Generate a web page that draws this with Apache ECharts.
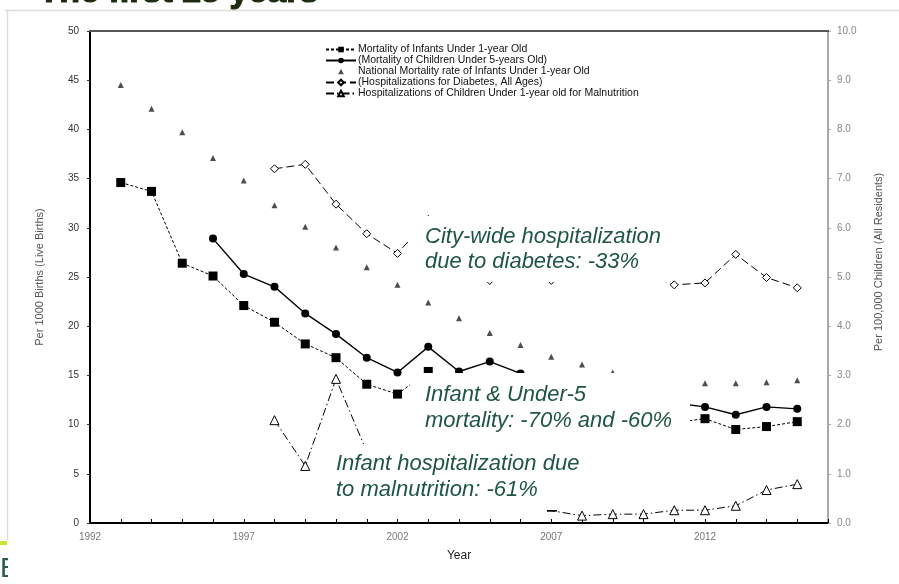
<!DOCTYPE html>
<html>
<head>
<meta charset="utf-8">
<script src="https://cdn.jsdelivr.net/npm/echarts@6/dist/echarts.min.js"></script>
<style>
  html, body { margin: 0; padding: 0; background: #ffffff; }
  #chart { width: 899px; height: 584px; }
</style>
</head>
<body>
<div id="chart"></div>
<script>
// Years on the horizontal axis
const years = [1992, 1993, 1994, 1995, 1996, 1997, 1998, 1999, 2000, 2001, 2002, 2003,
  2004, 2005, 2006, 2007, 2008, 2009, 2010, 2011, 2012, 2013, 2014, 2015, 2016];

// Per 1000 live births (left axis)
const infantMortality = [null, 34.6, 33.7, 26.4, 25.1, 22.1, 20.4, 18.2, 16.8, 14.1, 13.1, 15.4,
  12.9, 12.4, 12.0, 11.6, 11.2, 10.9, 10.6, 10.2, 10.6, 9.5, 9.8, 10.3, null];
const under5Mortality = [null, null, null, null, 28.9, 25.3, 24.0, 21.3, 19.2, 16.8, 15.3, 17.9,
  15.4, 16.4, 15.2, 14.6, 14.0, 13.4, 12.8, 12.2, 11.8, 11.0, 11.8, 11.6, null];
const nationalInfant = [null, 44.5, 42.1, 39.7, 37.1, 34.8, 32.3, 30.1, 28.0, 26.0, 24.2, 22.4,
  20.8, 19.3, 18.1, 16.9, 16.1, 15.3, 14.8, 14.5, 14.2, 14.2, 14.3, 14.5, null];

// Per 100,000 (right axis)
const diabetesHosp = [null, null, null, null, null, null, 7.20, 7.29, 6.48, 5.88, 5.48, 6.17,
  5.60, 4.93, 5.30, 4.93, 5.30, 5.20, 5.10, 4.84, 4.88, 5.46, 4.99, 4.78, null];
const malnutritionHosp = [null, null, null, null, null, null, 2.09, 1.16, 2.93, 1.45, 1.10, 0.90,
  0.70, 0.50, 0.25, 0.25, 0.15, 0.18, 0.18, 0.26, 0.26, 0.35, 0.67, 0.79, null];

const leftTicks = { min: 0, max: 50, step: 5 };
const rightTicks = { min: 0, max: 10, step: 1 };

const seriesNames = [
  'Mortality of Infants Under 1-year Old',
  '(Mortality of Children Under 5-years Old)',
  'National Mortality rate of Infants Under 1-year Old',
  '(Hospitalizations for Diabetes, All Ages)',
  'Hospitalizations of Children Under 1-year old for Malnutrition'
];

const FONT = '"Liberation Sans", Arial, sans-serif';
const NOTE = '#1f5547';
const TITLE = '#1e2a10';

// 2007 malnutrition point is drawn as a short tick instead of a triangle
const malnutritionData = malnutritionHosp.map((v, i) =>
  years[i] === 2007 ? { value: v, symbol: 'rect', symbolSize: [9, 1.2], itemStyle: { color: '#000' } } : v);

const chart = echarts.init(document.getElementById('chart'), null, { renderer: 'canvas' });

chart.setOption({
  backgroundColor: '#ffffff',
  animation: false,
  textStyle: { fontFamily: FONT },
  grid: { left: 90, right: 71, top: 31, bottom: 61 },
  legend: {
    orient: 'vertical',
    left: 325,
    top: 44,
    itemWidth: 30,
    itemHeight: 7,
    itemGap: 0,
    padding: 0,
    textStyle: { fontSize: 10.5, lineHeight: 8.5, color: '#111', fontFamily: FONT, padding: [0, 0, 0, -3] },
    data: seriesNames
  },
  xAxis: {
    type: 'category',
    data: years,
    boundaryGap: false,
    name: 'Year',
    nameLocation: 'middle',
    nameGap: 27,
    nameTextStyle: { fontSize: 12, color: '#222' },
    axisLine: { lineStyle: { color: '#000', width: 2 } },
    axisTick: { inside: true, length: 4, interval: 0, lineStyle: { color: '#000' } },
    axisLabel: { interval: 4, fontSize: 10, color: '#777', margin: 9 },
    splitLine: { show: false }
  },
  yAxis: [
    {
      type: 'value',
      min: leftTicks.min, max: leftTicks.max, interval: leftTicks.step,
      name: 'Per 1000 Births (Live Births)',
      nameLocation: 'middle',
      nameGap: 45,
      nameTextStyle: { fontSize: 11, color: '#555' },
      axisLine: { show: true, lineStyle: { color: '#000', width: 2 } },
      axisTick: { show: true, length: 3, lineStyle: { color: '#333' } },
      axisLabel: { fontSize: 10, color: '#333', margin: 11 },
      splitLine: { show: false }
    },
    {
      type: 'value',
      position: 'right',
      min: rightTicks.min, max: rightTicks.max, interval: rightTicks.step,
      name: 'Per 100,000 Children (All Residents)',
      nameLocation: 'middle',
      nameGap: 45,
      nameTextStyle: { fontSize: 11, color: '#555', padding: [0, 0, 0, 30] },
      axisLine: { show: true, lineStyle: { color: '#aaa', width: 2 } },
      axisTick: { show: true, length: 3, lineStyle: { color: '#aaa' } },
      axisLabel: { fontSize: 10, color: '#888', margin: 9, formatter: v => v.toFixed(1) },
      splitLine: { show: false }
    }
  ],
  series: [
    {
      name: seriesNames[0], type: 'line', data: infantMortality, yAxisIndex: 0,
      symbol: 'rect', symbolSize: 9, connectNulls: false,
      itemStyle: { color: '#000' },
      lineStyle: { color: '#000', width: 1, type: [3, 2] }
    },
    {
      name: seriesNames[1], type: 'line', data: under5Mortality, yAxisIndex: 0,
      symbol: 'circle', symbolSize: 8,
      itemStyle: { color: '#000' },
      lineStyle: { color: '#000', width: 1.4, type: 'solid' }
    },
    {
      name: seriesNames[2], type: 'line', data: nationalInfant, yAxisIndex: 0,
      symbol: 'triangle', symbolSize: 6,
      itemStyle: { color: '#4d4d4d' },
      lineStyle: { width: 0, opacity: 0 }
    },
    {
      name: seriesNames[3], type: 'line', data: diabetesHosp, yAxisIndex: 1,
      symbol: 'diamond', symbolSize: 8,
      itemStyle: { color: '#fff', borderColor: '#000', borderWidth: 1 },
      lineStyle: { color: '#000', width: 1, type: [8, 4] }
    },
    {
      name: seriesNames[4], type: 'line', data: malnutritionData, yAxisIndex: 1,
      symbol: 'triangle', symbolSize: 9,
      itemStyle: { color: '#fff', borderColor: '#000', borderWidth: 1 },
      lineStyle: { color: '#000', width: 1, type: [8, 3, 1.5, 3] }
    }
  ],
  graphic: [
    // slide frame and decorations
    { type: 'text', z: 0, left: 0, top: 555, style: { text: 'E', font: '28px ' + FONT, fill: '#2a5d52' } },
    { type: 'rect', z: 1, shape: { x: 8, y: 546, width: 40, height: 38 }, style: { fill: '#fff' } },
    { type: 'line', z: 2, shape: { x1: 5, y1: 10.5, x2: 899, y2: 10.5 }, style: { stroke: '#dddddd', lineWidth: 1.5 } },
    { type: 'line', z: 2, shape: { x1: 7.5, y1: 10.5, x2: 7.5, y2: 541 }, style: { stroke: '#dddddd', lineWidth: 1.5 } },
    { type: 'rect', z: 2, shape: { x: 0, y: 541, width: 7, height: 4 }, style: { fill: '#c8e23a' } },
    {
      type: 'text', z: 50, left: 38, top: -25,
      style: { text: 'The first 25 years', font: 'bold 34px ' + FONT, fill: TITLE, stroke: TITLE, lineWidth: 1.2 }
    },
    // annotation boxes
    { type: 'rect', z: 50, shape: { x: 410, y: 216, width: 258, height: 66 }, style: { fill: '#fff' } },
    { type: 'rect', z: 50, shape: { x: 410, y: 373, width: 280, height: 66 }, style: { fill: '#fff' } },
    { type: 'rect', z: 50, shape: { x: 330, y: 444, width: 217, height: 72 }, style: { fill: '#fff' } },
    { type: 'text', z: 51, left: 425, top: 224, style: { text: 'City-wide hospitalization\ndue to diabetes: -33%', font: 'italic 22px ' + FONT, fill: NOTE, lineHeight: 25 } },
    { type: 'text', z: 51, left: 425, top: 382, style: { text: 'Infant & Under-5\nmortality: -70% and -60%', font: 'italic 22px ' + FONT, fill: NOTE, lineHeight: 26 } },
    { type: 'text', z: 51, left: 336, top: 451, style: { text: 'Infant hospitalization due\nto malnutrition: -61%', font: 'italic 22px ' + FONT, fill: NOTE, lineHeight: 26 } },
    // dark top edge of the plot box
    { type: 'line', z: 40, shape: { x1: 89, y1: 31, x2: 829, y2: 31 }, style: { stroke: '#555', lineWidth: 2 } }
  ]
});
</script>
</body>
</html>
